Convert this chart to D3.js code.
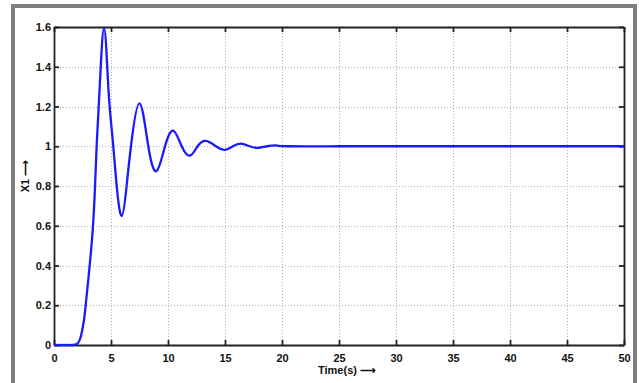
<!DOCTYPE html>
<html>
<head>
<meta charset="utf-8">
<script src="https://cdn.jsdelivr.net/npm/d3@7"></script>
<style>
  html, body { margin: 0; padding: 0; background: #fff; }
  svg { display: block; }
</style>
</head>
<body>
<div id="chart"></div>
<script>
// time (s) and response X1
const timeValues = [0, 1, 1.6, 2, 2.34, 2.63, 2.78, 3.13, 3.42, 3.6, 3.74, 3.92, 4.1, 4.39, 4.67, 4.88, 5.2, 5.5, 5.94,
  6.37, 6.75, 7.49, 8.27, 9.0, 9.74, 10.47, 11.2, 11.93, 12.6, 13.33, 14.2, 15.0, 15.7, 16.4, 17.15, 17.9, 18.7, 19.5, 20.5, 25, 30, 40, 50];
const x1Values = [0, 0, 0, 0.005, 0.04, 0.126, 0.2, 0.4, 0.6, 0.8, 1.0, 1.2, 1.4, 1.595, 1.4, 1.2, 1.0, 0.8, 0.649,
  0.8, 1.0, 1.216, 1.0, 0.875, 1.0, 1.078, 1.0, 0.953, 1.0, 1.027, 1.0, 0.982, 1.0, 1.013, 1.0, 0.992, 1.0, 1.004, 1.0, 1.0, 1.0, 1.0, 1.0];
const xTicks = [0, 5, 10, 15, 20, 25, 30, 35, 40, 45, 50];
const yTicks = [0, 0.2, 0.4, 0.6, 0.8, 1, 1.2, 1.4, 1.6];
const yTickLabels = ["0", "0.2", "0.4", "0.6", "0.8", "1", "1.2", "1.4", "1.6"];

const W = 639, H = 383;
const plot = { left: 54, right: 624, top: 27, bottom: 345 };

const svg = d3.select("#chart").append("svg")
  .attr("width", W).attr("height", H)
  .style("font-family", "'Liberation Sans', Arial, sans-serif");

// outer frame
svg.append("rect").attr("x", 13).attr("y", 6).attr("width", 622).attr("height", 385)
  .attr("fill", "none").attr("stroke", "#808080").attr("stroke-width", 4);

const x = d3.scaleLinear().domain([0, 50]).range([plot.left, plot.right]);
const y = d3.scaleLinear().domain([0, 1.6]).range([plot.bottom, plot.top]);

// grid
const grid = svg.append("g").attr("stroke", "#b0b0b0").attr("stroke-width", 1).attr("stroke-dasharray", "1,2");
grid.selectAll(".vx").data(xTicks.slice(1, -1)).join("line")
  .attr("x1", d => Math.round(x(d)) + 0.5).attr("x2", d => Math.round(x(d)) + 0.5)
  .attr("y1", plot.top).attr("y2", plot.bottom);
grid.selectAll(".hy").data(yTicks.slice(1, -1)).join("line")
  .attr("y1", d => Math.round(y(d)) + 0.5).attr("y2", d => Math.round(y(d)) + 0.5)
  .attr("x1", plot.left).attr("x2", plot.right);

// axes with inward ticks
const tickLen = 5;
const xAxis = d3.axisBottom(x).tickValues(xTicks).tickSizeInner(-tickLen).tickSizeOuter(0).tickPadding(9);
const yAxis = d3.axisLeft(y).tickValues(yTicks).tickSizeInner(-tickLen).tickSizeOuter(0).tickPadding(9)
  .tickFormat((d, i) => yTickLabels[i]);

const gx = svg.append("g").attr("transform", `translate(0,${plot.bottom})`).call(xAxis);
const gy = svg.append("g").attr("transform", `translate(${plot.left},0)`).call(yAxis);
svg.append("g").attr("transform", `translate(0,${plot.top})`)
  .call(d3.axisTop(x).tickValues(xTicks).tickSizeInner(-tickLen).tickSizeOuter(0).tickFormat(""));
svg.append("g").attr("transform", `translate(${plot.right},0)`)
  .call(d3.axisRight(y).tickValues(yTicks).tickSizeInner(-tickLen).tickSizeOuter(0).tickFormat(""));

svg.selectAll(".domain").attr("stroke", "#222").attr("stroke-width", 1.8);
svg.selectAll(".tick line").attr("stroke", "#222").attr("stroke-width", 1.8);
svg.selectAll(".tick text").attr("fill", "#111").style("font-size", "11px").style("font-weight", "bold");
gy.selectAll(".tick text").attr("x", -3);

// response line: flat start drawn straight, oscillating part as a smooth spline
const pts = timeValues.map((t, i) => [t, x1Values[i]]);
const line = d3.line().x(d => x(d[0])).y(d => y(d[1]));
svg.append("path").datum(pts.filter(d => d[0] <= 1.6))
  .attr("fill", "none").attr("stroke", "#1a1aff").attr("stroke-width", 2.3)
  .attr("d", line);
svg.append("path").datum(pts.filter(d => d[0] >= 1.6))
  .attr("fill", "none").attr("stroke", "#1a1aff").attr("stroke-width", 2.3)
  .attr("d", line.curve(d3.curveNatural));

// axis labels
svg.append("text").attr("x", 318).attr("y", 374)
  .style("font-size", "11px").style("font-weight", "bold").attr("fill", "#111")
  .text("Time(s) \u27F6");
svg.append("text").attr("transform", "translate(29,176) rotate(-90)")
  .attr("text-anchor", "middle")
  .style("font-size", "11px").style("font-weight", "bold").attr("fill", "#111")
  .text("X1 \u27F6");
</script>
</body>
</html>
